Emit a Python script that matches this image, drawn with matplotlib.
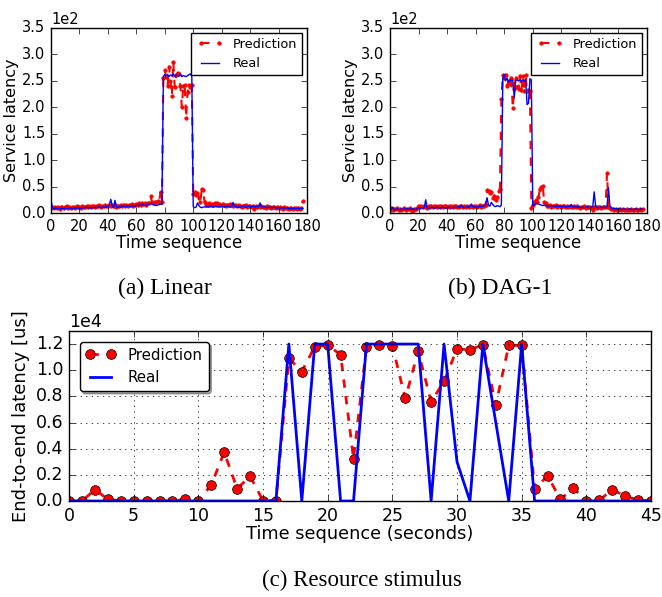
import numpy as np
import matplotlib
matplotlib.use("Agg")
import matplotlib.pyplot as plt

plt.style.use('classic')

# (a) Linear, service latency per time step
real_a = [25, 10, 8, 9, 8, 9, 10, 8, 9, 8,
          9, 8, 9, 10, 9, 8, 9, 10, 9, 9,
          10, 9, 10, 9, 10, 11, 10, 10, 9, 10,
          10, 11, 10, 11, 12, 10, 11, 12, 11, 12,
          12, 15, 26, 14, 10, 24, 12, 11, 12, 11,
          13, 12, 13, 12, 14, 13, 12, 13, 14, 13,
          14, 15, 14, 15, 16, 15, 14, 15, 16, 17,
          18, 17, 16, 15, 14, 15, 16, 17, 16, 258,
          262, 259, 262, 258, 261, 260, 263, 258, 261, 260,
          259, 262, 258, 260, 259, 258, 260, 262, 263, 258,
          12, 10, 11, 19, 14, 11, 10, 11, 12, 11,
          12, 11, 13, 12, 11, 12, 13, 12, 11, 12,
          13, 12, 11, 12, 13, 12, 11, 12, 20, 13,
          12, 11, 12, 11, 12, 13, 12, 11, 12, 13,
          12, 11, 13, 12, 11, 13, 12, 19, 12, 11,
          12, 11, 10, 11, 10, 11, 10, 11, 10, 9,
          10, 9, 10, 9, 10, 9, 10, 9, 8, 9,
          8, 9, 8, 9, 8, 9, 8, 9]
pred_a = [10, 12, 9, 11, 10, 12, 8, 11, 12, 9,
          11, 13, 10, 12, 9, 11, 12, 10, 13, 11,
          12, 10, 13, 11, 12, 14, 11, 13, 12, 14,
          13, 12, 14, 13, 15, 12, 14, 13, 15, 14,
          13, 15, 14, 16, 13, 15, 12, 14, 13, 15,
          14, 16, 13, 15, 14, 16, 15, 17, 14, 16,
          17, 15, 18, 16, 19, 17, 18, 16, 19, 18,
          33, 20, 19, 21, 20, 22, 21, 40, 20, 255,
          270, 258, 240, 277, 250, 222, 286, 238, 262, 265,
          263, 240, 200, 240, 242, 180, 228, 242, 238, 242,
          36, 40, 34, 38, 28, 20, 45, 43, 20, 17,
          16, 18, 16, 17, 15, 18, 16, 19, 17, 16,
          15, 17, 16, 14, 16, 15, 17, 15, 14, 16,
          15, 13, 15, 14, 12, 14, 13, 15, 12, 14,
          13, 12, 14, 7, 13, 11, 14, 12, 13, 11,
          12, 10, 13, 11, 12, 10, 11, 12, 10, 11,
          9, 11, 10, 8, 11, 9, 10, 7, 10, 9,
          8, 10, 9, 7, 10, 8, 9, 22]

# (b) DAG-1
real_b = [8, 7, 11, 6, 7, 8, 7, 6, 8, 7,
          8, 7, 8, 7, 8, 7, 8, 7, 6, 8,
          10, 9, 10, 9, 10, 25, 10, 9, 10, 11,
          10, 9, 10, 11, 10, 9, 10, 11, 10, 9,
          10, 11, 10, 9, 10, 11, 10, 11, 12, 11,
          15, 11, 10, 11, 12, 11, 12, 17, 12, 11,
          12, 11, 12, 13, 12, 13, 14, 18, 29, 14,
          13, 20, 16, 13, 12, 14, 13, 12, 15, 255,
          262, 250, 255, 248, 252, 250, 253, 218, 250, 252,
          250, 252, 249, 251, 250, 252, 205, 208, 254, 252,
          14, 15, 17, 18, 17, 16, 15, 14, 15, 14,
          14, 13, 14, 13, 14, 13, 12, 13, 12, 13,
          12, 13, 12, 11, 12, 13, 12, 16, 12, 11,
          12, 11, 12, 11, 10, 11, 10, 11, 12, 11,
          10, 11, 12, 40, 13, 11, 10, 11, 12, 10,
          11, 10, 12, 48, 14, 9, 8, 9, 7, 8,
          7, 8, 6, 7, 8, 7, 6, 7, 8, 7,
          6, 7, 8, 7, 6, 7, 8, 7]
pred_b = [6, 9, 5, 8, 7, 9, 6, 8, 5, 7,
          9, 6, 8, 7, 9, 6, 4, 8, 7, 9,
          14, 12, 13, 11, 14, 12, 10, 13, 12, 14,
          11, 13, 14, 12, 13, 11, 14, 12, 13, 14,
          12, 13, 11, 14, 12, 13, 14, 12, 11, 13,
          14, 12, 13, 11, 14, 12, 13, 14, 12, 13,
          14, 12, 13, 15, 12, 14, 13, 15, 43, 42,
          38, 40, 28, 33, 25, 30, 42, 45, 215, 262,
          255, 262, 240, 250, 245, 255, 198, 235, 255, 238,
          235, 260, 232, 260, 230, 262, 230, 232, 230, 10,
          15, 20, 25, 20, 30, 45, 50, 52, 20, 18,
          14, 13, 15, 12, 14, 13, 15, 12, 14, 13,
          12, 14, 13, 11, 14, 12, 13, 11, 12, 13,
          11, 13, 12, 10, 12, 11, 13, 10, 12, 11,
          12, 10, 5, 11, 12, 10, 11, 12, 10, 11,
          12, 12, 75, 12, 9, 7, 8, 6, 7, 5,
          6, 8, 5, 7, 6, 5, 7, 6, 5, 7,
          6, 5, 7, 6, 5, 7, 6, 8]

# (c) Resource stimulus, end-to-end latency [us]
pred_c = [0, 0, 870, 130, 0, 0, 0, 0, 0, 130,
          30, 1220, 3740, 940, 1900, 30, 30, 10900, 9900, 11800,
          11900, 11200, 3230, 11800, 11950, 11880, 7840, 11450, 7580, 9160,
          11630, 11580, 11930, 7350, 11900, 11900, 920, 1930, 130, 970,
          30, 50, 870, 380, 80, 0]
real_c = [0, 0, 0, 0, 0, 0, 0, 0, 0, 0,
          0, 0, 0, 0, 0, 0, 0, 12000, 0, 12000,
          12000, 0, 0, 12000, 12000, 12000, 12000, 12000, 0, 12000,
          3000, 0, 12000, 6000, 0, 12000, 0, 0, 0, 0,
          0, 0, 0, 0, 0, 0]

t_ab = np.arange(len(real_a))
t_c = np.arange(len(real_c))

fig = plt.figure(figsize=(6.62, 5.97), dpi=100, facecolor='white')

def top_panel(rect, real, pred, caption, cx):
    ax = fig.add_axes(rect)
    ax.plot(t_ab, pred, 'r.--', lw=1.5, ms=5, mec='r', label='Prediction')
    ax.plot(t_ab, real, 'b-', lw=1, label='Real')
    ax.set_xlim(0, 180)
    ax.set_ylim(0, 350)
    ax.ticklabel_format(style='sci', axis='y', scilimits=(0, 0))
    ax.tick_params(labelsize=10.5)
    ax.yaxis.get_offset_text().set_fontsize(10.5)
    ax.set_xlabel('Time sequence', fontsize=12, labelpad=0)
    ax.set_ylabel('Service latency', fontsize=11.5, labelpad=2)
    ax.legend(loc='upper right', fontsize=9.3, numpoints=2, borderaxespad=0.35)
    fig.text(cx, 1 - 288 / 597, caption, ha='center', va='center',
             family='Liberation Serif', fontsize=17)
    return ax

top_panel([51 / 662, 1 - 213 / 597, 256 / 662, 185 / 597], real_a, pred_a,
          '(a) Linear', 165 / 662)
top_panel([390 / 662, 1 - 213 / 597, 257 / 662, 185 / 597], real_b, pred_b,
          '(b) DAG-1', 500 / 662)

ax = fig.add_axes([69 / 662, 1 - 501 / 597, 582 / 662, 170 / 597])
ax.plot(t_c, pred_c, 'ro--', lw=2, ms=7, label='Prediction')
ax.plot(t_c, real_c, 'b-', lw=2, label='Real')
ax.set_xlim(0, 45)
ax.set_ylim(0, 13000)
ax.set_yticks([0, 2000, 4000, 6000, 8000, 10000, 12000])
ax.ticklabel_format(style='sci', axis='y', scilimits=(0, 0))
ax.tick_params(labelsize=12.5)
ax.yaxis.get_offset_text().set_fontsize(12.5)
ax.grid(True)
ax.set_xlabel('Time sequence (seconds)', fontsize=12.8, labelpad=0)
ax.set_ylabel('End-to-end latency [us]', fontsize=13, labelpad=4)
ax.legend(loc='upper left', fontsize=10.8, numpoints=2, fancybox=True,
          shadow=True, borderaxespad=0.7)
fig.text(362 / 662, 1 - 580 / 597, '(c) Resource stimulus', ha='center',
         va='center', family='Liberation Serif', fontsize=16.5)

fig.savefig('out.png', dpi=100, facecolor='white')
